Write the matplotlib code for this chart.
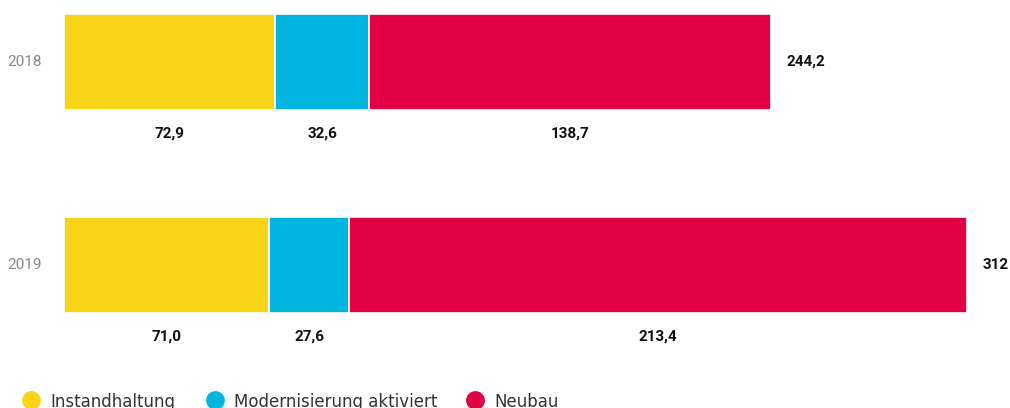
import matplotlib.pyplot as plt
from matplotlib.lines import Line2D

# data
years = ["2018", "2019"]
series = ["Instandhaltung", "Modernisierung aktiviert", "Neubau"]
instandhaltung = [72.9, 71.0]
modernisierung = [32.6, 27.6]
neubau = [138.7, 213.4]
totals = ["244,2", "312"]
colours = ["#f7d417", "#00b5e0", "#e20045"]

fig = plt.figure(figsize=(10.1, 4.08), dpi=100)
ax = fig.add_axes([64 / 1010, 0, 946 / 1010, 1])

# pixel geometry: centres at 62 and 265 px from top, 203 px apart
ax.set_ylim((408 - 62) / 203, -62 / 203)
ax.set_xlim(0, 946 / 2.894)
ax.axis("off")

def fmt(v):
    return f"{v:.1f}".replace(".", ",")

values = [instandhaltung, modernisierung, neubau]
for i, year in enumerate(years):
    left = 0
    for j, vals in enumerate(values):
        v = vals[i]
        ax.barh(i, v, left=left, height=96 / 203, color=colours[j],
                edgecolor="white", linewidth=1.2)
        # segment value below the bar
        ax.text(left + v / 2, i + 72 / 203, fmt(v), ha="center", va="center",
                fontsize=11, fontweight="bold", color="#111111",
                family="Roboto")
        left += v
    ax.text(left + 16 / 2.894, i, totals[i], ha="left", va="center",
            fontsize=11, fontweight="bold", color="#111111",
            family="Roboto")
    ax.text(-22 / 2.894, i, year, ha="right", va="center", fontsize=11,
            color="#888888", clip_on=False, family="Roboto")

# legend, partly cut off at the bottom like the original
legend_x = [31, 215, 475]
for x, name, c in zip(legend_x, series, colours):
    fig.add_artist(Line2D([x / 1010], [8 / 408], marker="o", markersize=12.5,
                          color=c, linestyle="none", transform=fig.transFigure))
    fig.text((x + 19) / 1010, 6 / 408, name, ha="left", va="center",
             fontsize=12, color="#333333", family="DejaVu Sans")

fig.savefig("out.png", dpi=100)
